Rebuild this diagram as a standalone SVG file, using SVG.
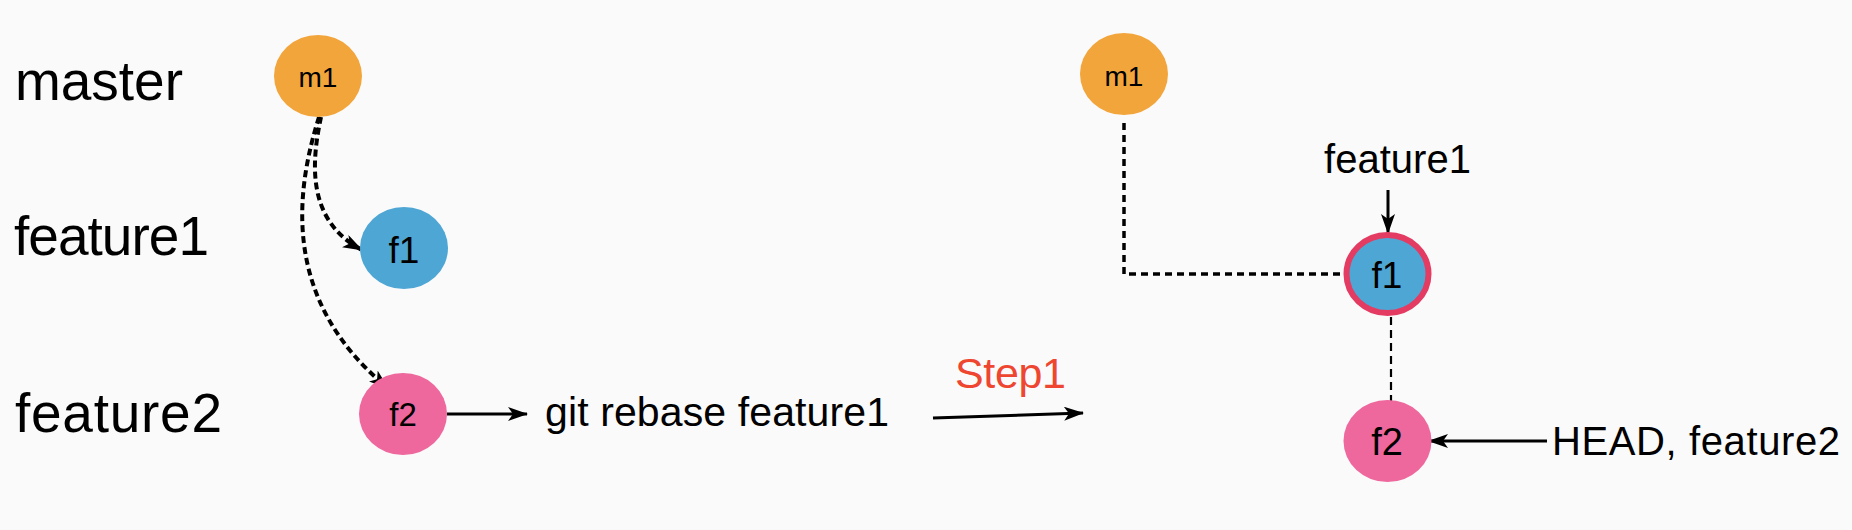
<svg xmlns="http://www.w3.org/2000/svg" width="1852" height="530" viewBox="0 0 1852 530">
<style>
text{font-family:"Liberation Sans",Arial,sans-serif;fill:#000}
.lbl{font-size:55px}
.cmt{text-anchor:middle}
.ln{fill:none;stroke:#000}
.dash1{stroke-width:4;stroke-dasharray:7 4}
.dash2{stroke-width:3.5;stroke-dasharray:7 5}
.dash3{stroke-width:2.2;stroke-dasharray:8 5}
.solid{stroke-width:3}
.m{fill:#F2A53B}
.f1{fill:#4EA6D4}
.f2{fill:#EE679D}
</style>
<defs>
<marker id="ah" viewBox="0 0 20 14" refX="19" refY="7" markerWidth="20" markerHeight="14" markerUnits="userSpaceOnUse" orient="auto">
<path d="M0,0 L20,7 L0,14 L5,7 z" fill="#000"/>
</marker>
</defs>
<rect x="0" y="0" width="1852" height="530" fill="#FAFAFA"/>
<g id="labels">
<text class="lbl" x="15" y="100" textLength="168" lengthAdjust="spacing">master</text>
<text class="lbl" x="14" y="255" textLength="195" lengthAdjust="spacing">feature1</text>
<text class="lbl" x="15" y="432" textLength="207" lengthAdjust="spacing">feature2</text>
<text x="545" y="426" font-size="41" textLength="344" lengthAdjust="spacing">git rebase feature1</text>
<text x="955" y="388" font-size="43" textLength="111" lengthAdjust="spacing" style="fill:#EE4630">Step1</text>
<text x="1324" y="173" font-size="40" textLength="147" lengthAdjust="spacing">feature1</text>
<text x="1552" y="455" font-size="40" textLength="288" lengthAdjust="spacing">HEAD, feature2</text>
</g>
<g id="connectors">
<path class="ln dash1" d="M321,117 C312,160 305,220 362,250" marker-end="url(#ah)"/>
<path class="ln dash1" d="M319,117 C296,190 280,300 388,388" marker-end="url(#ah)"/>
<path class="ln solid" d="M447,414 L527,414" marker-end="url(#ah)"/>
<path class="ln solid" d="M933,418 L1083,413" marker-end="url(#ah)"/>
<path class="ln dash2" d="M1124,123 L1124,274 L1343,274"/>
<path class="ln solid" d="M1388,190 L1388,233" marker-end="url(#ah)"/>
<path class="ln dash3" d="M1391,317 L1391,410"/>
<path class="ln solid" d="M1547,441 L1429,441" marker-end="url(#ah)"/>
</g>
<g id="m1-left">
<ellipse class="m" cx="318" cy="76" rx="44" ry="41"/>
<text class="cmt" x="318" y="87" font-size="28">m1</text>
</g>
<g id="f1-left">
<ellipse class="f1" cx="404" cy="248" rx="44" ry="41"/>
<text class="cmt" x="404" y="263" font-size="37">f1</text>
</g>
<g id="f2-left">
<ellipse class="f2" cx="403" cy="414" rx="44" ry="41"/>
<text class="cmt" x="403" y="426" font-size="33">f2</text>
</g>
<g id="m1-right">
<ellipse class="m" cx="1124" cy="74" rx="44" ry="41"/>
<text class="cmt" x="1124" y="86" font-size="28">m1</text>
</g>
<g id="f1-right">
<ellipse class="f1" cx="1387.5" cy="274" rx="41" ry="39" stroke="#E33B62" stroke-width="6"/>
<text class="cmt" x="1387" y="288" font-size="37">f1</text>
</g>
<g id="f2-right">
<ellipse class="f2" cx="1387.5" cy="441" rx="44" ry="41"/>
<text class="cmt" x="1387" y="455" font-size="38">f2</text>
</g>
</svg>
